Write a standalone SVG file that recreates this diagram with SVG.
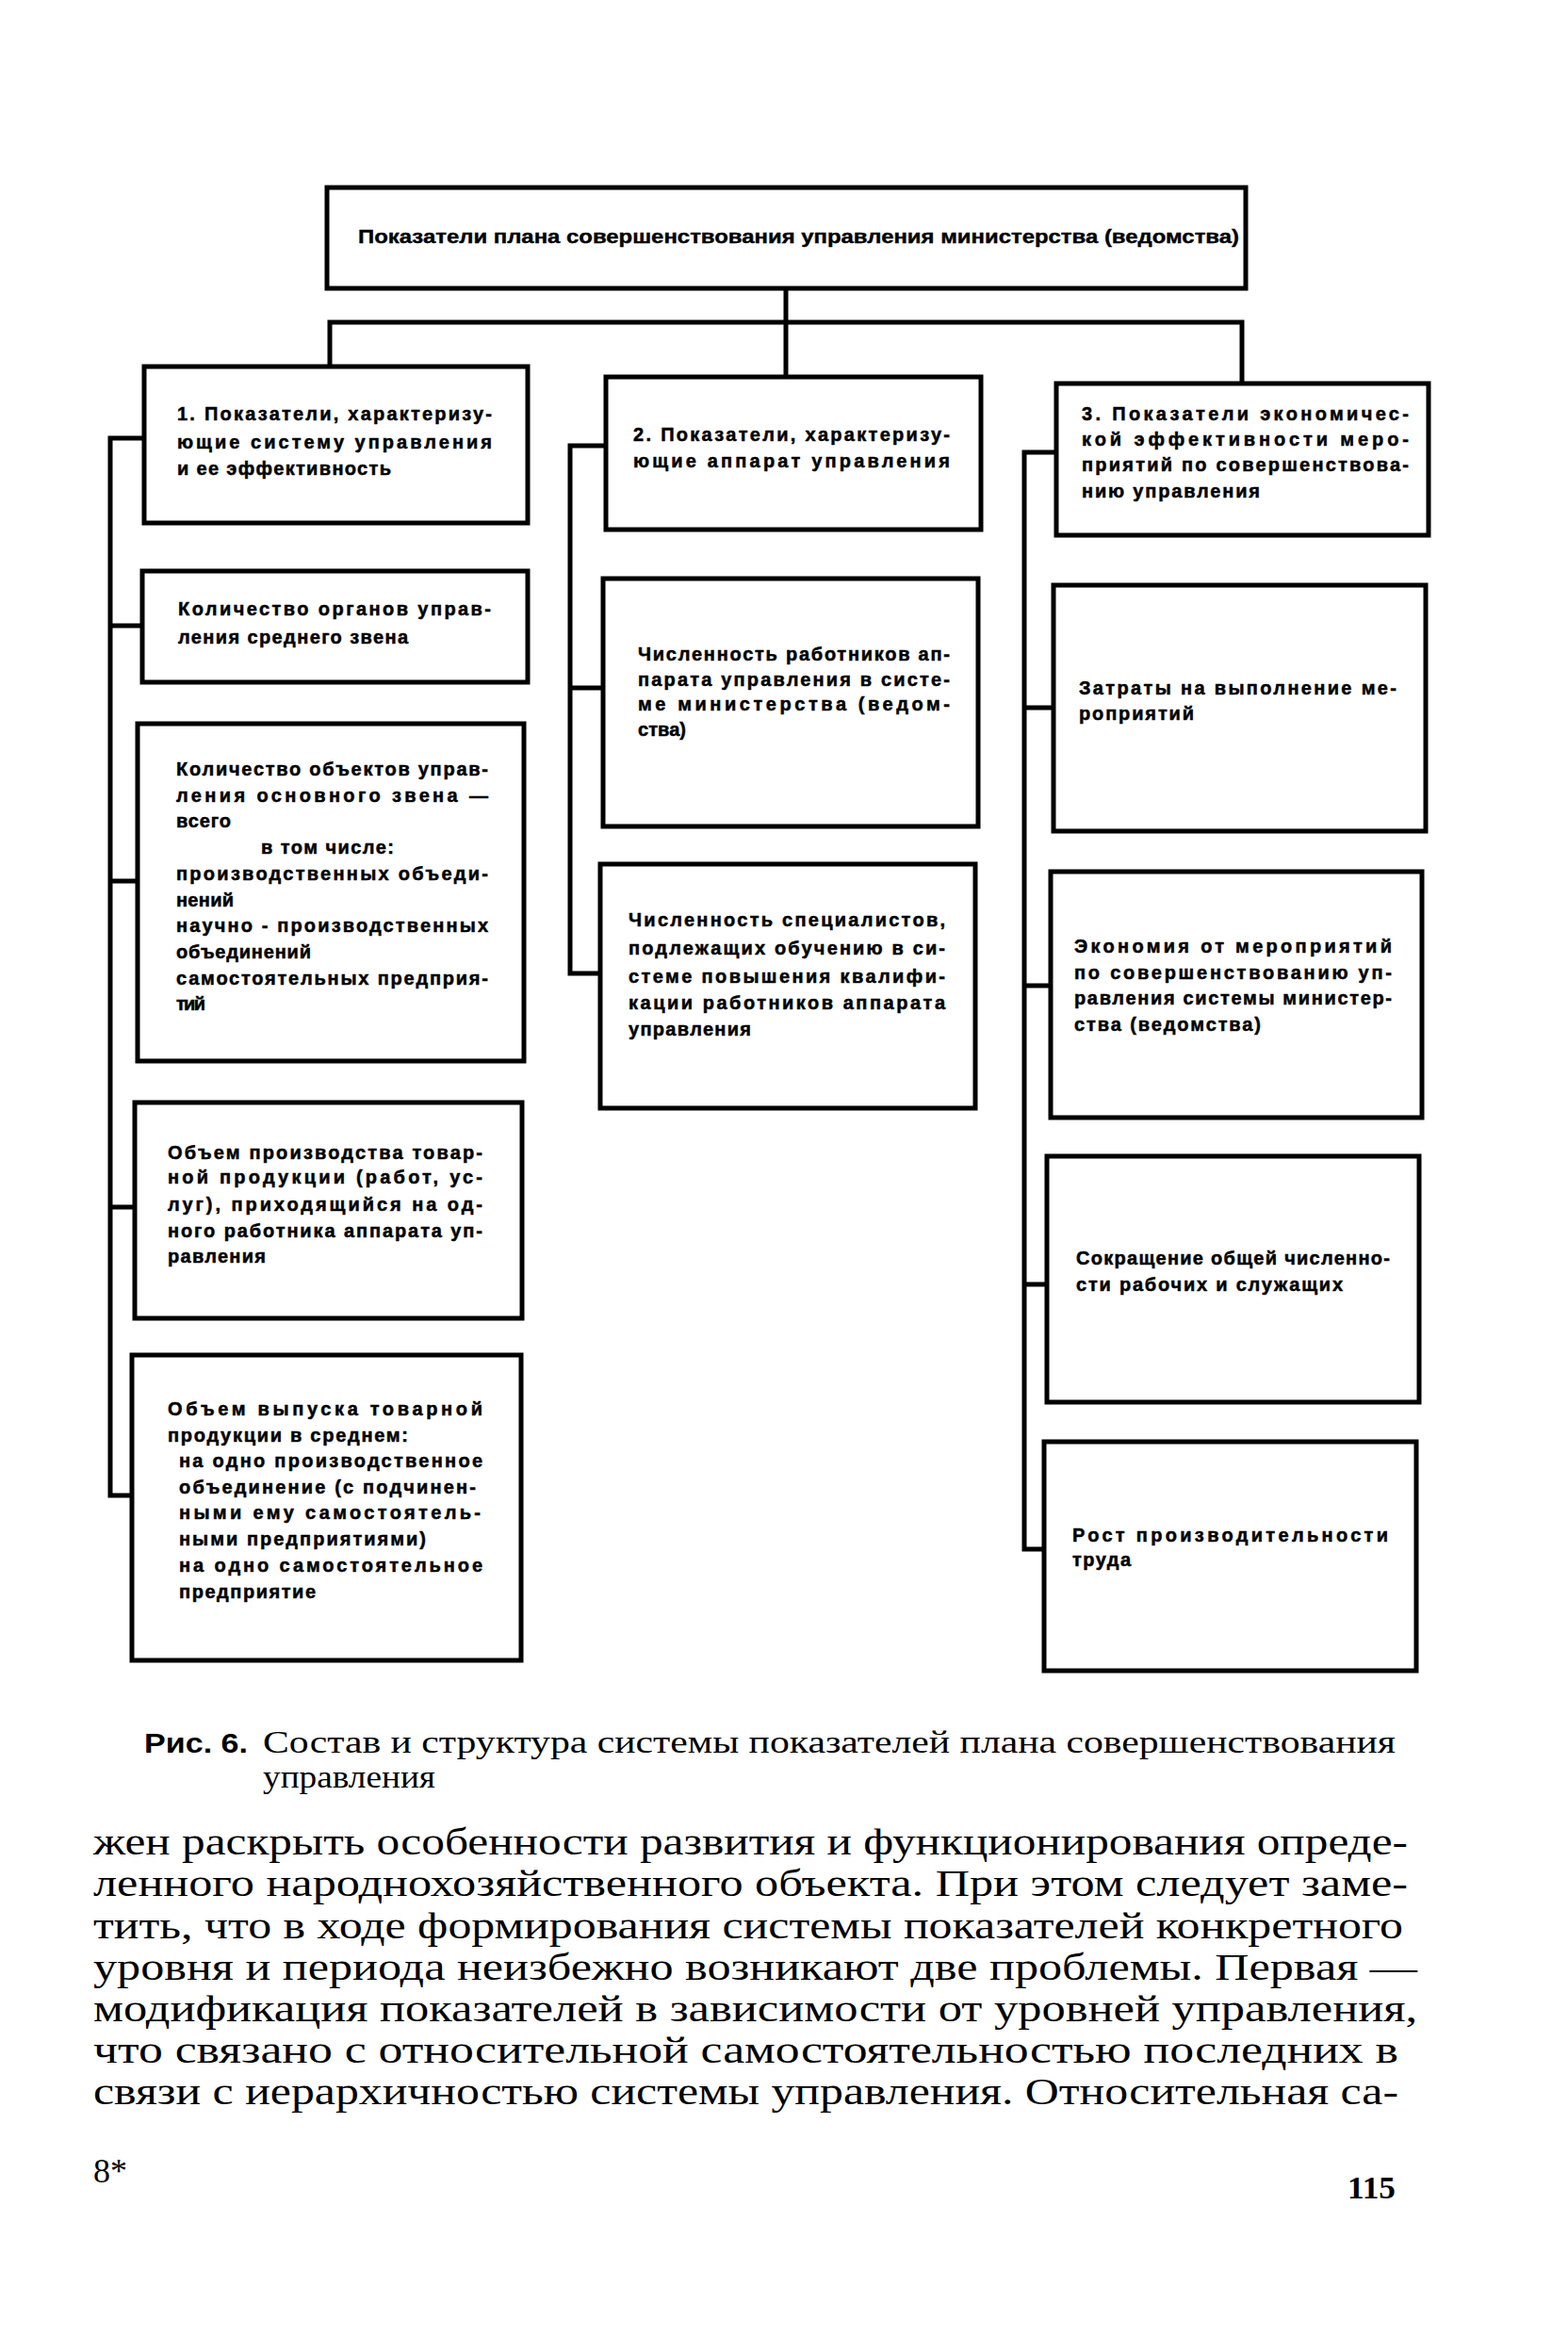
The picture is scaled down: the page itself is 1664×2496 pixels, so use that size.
<svg xmlns="http://www.w3.org/2000/svg" width="1664" height="2496" viewBox="0 0 1664 2496">
<style>
.bg{fill:#ffffff}
.box{fill:#ffffff;stroke:#000000;stroke-width:5}
.ln{fill:none;stroke:#000000;stroke-width:5;stroke-linecap:square}
.t{font-family:"Liberation Sans",Arial,sans-serif;font-weight:bold;font-size:20px;fill:#000000;stroke:#000000;stroke-width:0.5}
.tt{font-family:"Liberation Sans",Arial,sans-serif;font-weight:bold;font-size:21px;fill:#000000;stroke:#000000;stroke-width:0.4}
.cap{font-family:"Liberation Serif","Times New Roman",serif;font-size:33px;fill:#000000}
.capb{font-family:"Liberation Sans",Arial,sans-serif;font-weight:bold;font-size:29px;fill:#000000}
.body{font-family:"Liberation Serif","Times New Roman",serif;font-size:40px;fill:#000000}
.pg{font-family:"Liberation Serif","Times New Roman",serif;font-size:36px;fill:#000000}
.pgb{font-family:"Liberation Serif","Times New Roman",serif;font-weight:bold;font-size:34px;fill:#000000}
</style>
<rect class="bg" x="0" y="0" width="1664" height="2496"/>

<g id="connectors">
<path class="ln" d="M834 306 V342 M350 342 H1318 M350 342 V387 M834 342 V398 M1318 342 V406"/>
<path class="ln" d="M117 465 V1587 M117 465 H153 M117 664 H151 M117 935 H146 M117 1281 H143 M117 1587 H140"/>
<path class="ln" d="M605 473 V1033 M605 473 H643 M605 730 H640 M605 1033 H637"/>
<path class="ln" d="M1087 480 V1644 M1087 480 H1121 M1087 751 H1118 M1087 1046 H1115 M1087 1363 H1111 M1087 1644 H1108"/>
</g>

<g id="root">
<rect class="box" x="347" y="199" width="975" height="107"/>
<text class="tt" x="380" y="258" textLength="935" lengthAdjust="spacingAndGlyphs">Показатели плана совершенствования управления министерства (ведомства)</text>
</g>

<g id="group1">
<rect class="box" x="153" y="389" width="407" height="166"/>
<text class="t" x="188" y="446" textLength="334" lengthAdjust="spacing">1. Показатели, характеризу-</text>
<text class="t" x="188" y="476" textLength="334" lengthAdjust="spacing">ющие систему управления</text>
<text class="t" x="188" y="504" textLength="227" lengthAdjust="spacing">и ее эффективность</text>
</g>

<g id="node1a">
<rect class="box" x="151" y="606" width="409" height="118"/>
<text class="t" x="189" y="653" textLength="332" lengthAdjust="spacing">Количество органов управ-</text>
<text class="t" x="189" y="683" textLength="244" lengthAdjust="spacing">ления среднего звена</text>
</g>

<g id="node1b">
<rect class="box" x="146" y="768" width="410" height="358"/>
<text class="t" x="187" y="823" textLength="331" lengthAdjust="spacing">Количество объектов управ-</text>
<text class="t" x="187" y="851" textLength="331" lengthAdjust="spacing">ления основного звена —</text>
<text class="t" x="187" y="878" textLength="58" lengthAdjust="spacing">всего</text>
<text class="t" x="277" y="906" textLength="141" lengthAdjust="spacing">в том числе:</text>
<text class="t" x="187" y="934" textLength="331" lengthAdjust="spacing">производственных объеди-</text>
<text class="t" x="187" y="962" textLength="61" lengthAdjust="spacing">нений</text>
<text class="t" x="187" y="989" textLength="331" lengthAdjust="spacing">научно - производственных</text>
<text class="t" x="187" y="1017" textLength="143" lengthAdjust="spacing">объединений</text>
<text class="t" x="187" y="1045" textLength="331" lengthAdjust="spacing">самостоятельных предприя-</text>
<text class="t" x="187" y="1072" textLength="31" lengthAdjust="spacing">тий</text>
</g>

<g id="node1c">
<rect class="box" x="143" y="1170" width="411" height="229"/>
<text class="t" x="178" y="1230" textLength="334" lengthAdjust="spacing">Объем производства товар-</text>
<text class="t" x="178" y="1256" textLength="334" lengthAdjust="spacing">ной продукции (работ, ус-</text>
<text class="t" x="178" y="1285" textLength="334" lengthAdjust="spacing">луг), приходящийся на од-</text>
<text class="t" x="178" y="1313" textLength="334" lengthAdjust="spacing">ного работника аппарата уп-</text>
<text class="t" x="178" y="1340" textLength="104" lengthAdjust="spacing">равления</text>
</g>

<g id="node1d">
<rect class="box" x="140" y="1438" width="413" height="324"/>
<text class="t" x="178" y="1502" textLength="334" lengthAdjust="spacing">Объем выпуска товарной</text>
<text class="t" x="178" y="1530" textLength="255" lengthAdjust="spacing">продукции в среднем:</text>
<text class="t" x="190" y="1557" textLength="322" lengthAdjust="spacing">на одно производственное</text>
<text class="t" x="190" y="1585" textLength="315" lengthAdjust="spacing">объединение (с подчинен-</text>
<text class="t" x="190" y="1612" textLength="320" lengthAdjust="spacing">ными ему самостоятель-</text>
<text class="t" x="190" y="1640" textLength="262" lengthAdjust="spacing">ными предприятиями)</text>
<text class="t" x="190" y="1668" textLength="322" lengthAdjust="spacing">на одно самостоятельное</text>
<text class="t" x="190" y="1696" textLength="145" lengthAdjust="spacing">предприятие</text>
</g>

<g id="group2">
<rect class="box" x="643" y="400" width="398" height="162"/>
<text class="t" x="672" y="468" textLength="336" lengthAdjust="spacing">2. Показатели, характеризу-</text>
<text class="t" x="672" y="496" textLength="336" lengthAdjust="spacing">ющие аппарат управления</text>
</g>

<g id="node2a">
<rect class="box" x="640" y="614" width="398" height="263"/>
<text class="t" x="677" y="701" textLength="331" lengthAdjust="spacing">Численность работников ап-</text>
<text class="t" x="677" y="728" textLength="331" lengthAdjust="spacing">парата управления в систе-</text>
<text class="t" x="677" y="754" textLength="331" lengthAdjust="spacing">ме министерства (ведом-</text>
<text class="t" x="677" y="781" textLength="51" lengthAdjust="spacing">ства)</text>
</g>

<g id="node2b">
<rect class="box" x="637" y="917" width="398" height="259"/>
<text class="t" x="667" y="983" textLength="336" lengthAdjust="spacing">Численность специалистов,</text>
<text class="t" x="667" y="1013" textLength="336" lengthAdjust="spacing">подлежащих обучению в си-</text>
<text class="t" x="667" y="1043" textLength="336" lengthAdjust="spacing">стеме повышения квалифи-</text>
<text class="t" x="667" y="1071" textLength="336" lengthAdjust="spacing">кации работников аппарата</text>
<text class="t" x="667" y="1099" textLength="130" lengthAdjust="spacing">управления</text>
</g>

<g id="group3">
<rect class="box" x="1121" y="407" width="395" height="161"/>
<text class="t" x="1148" y="446" textLength="347" lengthAdjust="spacing">3. Показатели экономичес-</text>
<text class="t" x="1148" y="473" textLength="347" lengthAdjust="spacing">кой эффективности меро-</text>
<text class="t" x="1148" y="500" textLength="347" lengthAdjust="spacing">приятий по совершенствова-</text>
<text class="t" x="1148" y="528" textLength="189" lengthAdjust="spacing">нию управления</text>
</g>

<g id="node3a">
<rect class="box" x="1118" y="621" width="395" height="261"/>
<text class="t" x="1145" y="737" textLength="337" lengthAdjust="spacing">Затраты на выполнение ме-</text>
<text class="t" x="1145" y="764" textLength="122" lengthAdjust="spacing">роприятий</text>
</g>

<g id="node3b">
<rect class="box" x="1115" y="925" width="394" height="261"/>
<text class="t" x="1140" y="1011" textLength="337" lengthAdjust="spacing">Экономия от мероприятий</text>
<text class="t" x="1140" y="1039" textLength="337" lengthAdjust="spacing">по совершенствованию уп-</text>
<text class="t" x="1140" y="1066" textLength="337" lengthAdjust="spacing">равления системы министер-</text>
<text class="t" x="1140" y="1094" textLength="198" lengthAdjust="spacing">ства (ведомства)</text>
</g>

<g id="node3c">
<rect class="box" x="1111" y="1227" width="395" height="261"/>
<text class="t" x="1142" y="1342" textLength="333" lengthAdjust="spacing">Сокращение общей численно-</text>
<text class="t" x="1142" y="1370" textLength="283" lengthAdjust="spacing">сти рабочих и служащих</text>
</g>

<g id="node3d">
<rect class="box" x="1108" y="1530" width="395" height="243"/>
<text class="t" x="1138" y="1636" textLength="335" lengthAdjust="spacing">Рост производительности</text>
<text class="t" x="1138" y="1662" textLength="62" lengthAdjust="spacing">труда</text>
</g>

<g id="caption">
<text class="capb" x="153" y="1860" textLength="110" lengthAdjust="spacingAndGlyphs">Рис. 6.</text>
<text class="cap" x="279" y="1860" textLength="1202" lengthAdjust="spacingAndGlyphs">Состав и структура системы показателей плана  совершенствования</text>
<text class="cap" x="279" y="1897" textLength="183" lengthAdjust="spacingAndGlyphs">управления</text>
</g>

<g id="body">
<text class="body" x="99" y="1968" textLength="1395" lengthAdjust="spacingAndGlyphs">жен раскрыть особенности развития и функционирования опреде-</text>
<text class="body" x="99" y="2012" textLength="1395" lengthAdjust="spacingAndGlyphs">ленного народнохозяйственного объекта. При этом следует заме-</text>
<text class="body" x="99" y="2057" textLength="1390" lengthAdjust="spacingAndGlyphs">тить, что в ходе формирования системы показателей конкретного</text>
<text class="body" x="99" y="2101" textLength="1405" lengthAdjust="spacingAndGlyphs">уровня и периода неизбежно возникают две проблемы. Первая —</text>
<text class="body" x="99" y="2145" textLength="1405" lengthAdjust="spacingAndGlyphs">модификация показателей в зависимости от уровней управления,</text>
<text class="body" x="99" y="2189" textLength="1385" lengthAdjust="spacingAndGlyphs">что связано с относительной самостоятельностью последних в</text>
<text class="body" x="99" y="2233" textLength="1385" lengthAdjust="spacingAndGlyphs">связи с иерархичностью системы управления. Относительная са-</text>
<text class="pg" x="99" y="2316">8*</text>
<text class="pgb" x="1430" y="2333" textLength="51" lengthAdjust="spacingAndGlyphs">115</text>
</g>
</svg>
